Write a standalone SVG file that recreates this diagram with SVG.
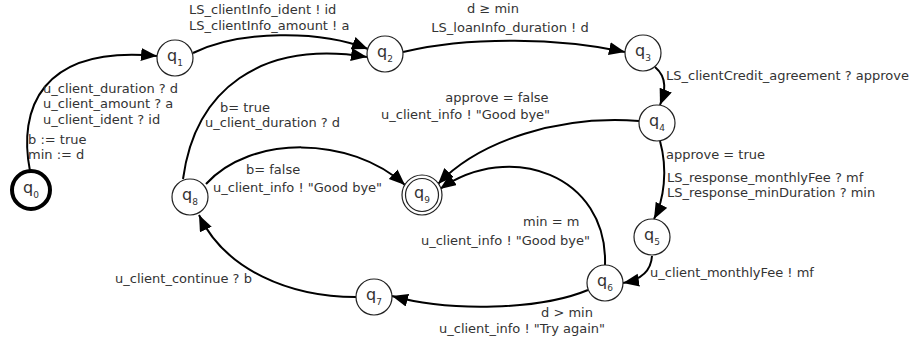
<svg xmlns="http://www.w3.org/2000/svg" width="912" height="343" viewBox="0 0 912 343">
<style>
.n{fill:#fff;stroke:#222;stroke-width:1.2}
.q{font-family:"DejaVu Sans",Verdana,sans-serif;font-size:16px;fill:#333}
.s{font-size:9px}
.e{fill:none;stroke:#000;stroke-width:2}
.t{font-family:"DejaVu Sans",Verdana,sans-serif;font-size:13px;fill:#333}
</style>
<defs>
<marker id="ah" markerUnits="userSpaceOnUse" markerWidth="18" markerHeight="14" refX="16" refY="6.5" orient="auto">
<path d="M0,0 L16,6.5 L0,13 z" fill="#000"/>
</marker>
</defs>
<rect width="912" height="343" fill="#fff"/>
<g id="connectors">
<path class="e" d="M30,171 C18,110 40,45 157,56" marker-end="url(#ah)"/>
<path class="e" d="M193,53 C240,30 320,30 368,49" marker-end="url(#ah)"/>
<path class="e" d="M183,179 C195,90 260,40 367,57" marker-end="url(#ah)"/>
<path class="e" d="M403,52 C470,36 560,38 625,52" marker-end="url(#ah)"/>
<path class="e" d="M655,67 C668,78 665,92 660,105" marker-end="url(#ah)"/>
<path class="e" d="M639,121 C560,115 480,140 438,184" marker-end="url(#ah)"/>
<path class="e" d="M605,265 C608,175 510,140 440,189" marker-end="url(#ah)"/>
<path class="e" d="M660,141 C668,170 664,200 654,219" marker-end="url(#ah)"/>
<path class="e" d="M652,256 C651,272 640,280 623,283" marker-end="url(#ah)"/>
<path class="e" d="M588,290 C540,310 450,312 392,296" marker-end="url(#ah)"/>
<path class="e" d="M356,297 C290,297 225,270 199,215" marker-end="url(#ah)"/>
<path class="e" d="M206,184 C250,135 350,135 405,185" marker-end="url(#ah)"/>
</g>
<g id="labels">
<text class="t" x="43" y="93">u_client_duration ? d</text>
<text class="t" x="43" y="108">u_client_amount ? a</text>
<text class="t" x="43" y="124">u_client_ident ? id</text>
<text class="t" x="28" y="144">b := true</text>
<text class="t" x="28" y="159">min := d</text>
<text class="t" x="189" y="14">LS_clientInfo_ident ! id</text>
<text class="t" x="189" y="30">LS_clientInfo_amount ! a</text>
<text class="t" x="493" y="13" text-anchor="middle">d ≥ min</text>
<text class="t" x="510" y="32" text-anchor="middle">LS_loanInfo_duration ! d</text>
<text class="t" x="666" y="80">LS_clientCredit_agreement ? approve</text>
<text class="t" x="497" y="102" text-anchor="middle">approve = false</text>
<text class="t" x="381" y="119">u_client_info ! "Good bye"</text>
<text class="t" x="220" y="112">b= true</text>
<text class="t" x="205" y="127">u_client_duration ? d</text>
<text class="t" x="666" y="159">approve = true</text>
<text class="t" x="667" y="182">LS_response_monthlyFee ? mf</text>
<text class="t" x="667" y="197">LS_response_minDuration ? min</text>
<text class="t" x="246" y="174">b= false</text>
<text class="t" x="213" y="192">u_client_info ! "Good bye"</text>
<text class="t" x="523" y="226">min = m</text>
<text class="t" x="590" y="245" text-anchor="end">u_client_info ! "Good bye"</text>
<text class="t" x="650" y="277">u_client_monthlyFee ! mf</text>
<text class="t" x="115" y="283">u_client_continue ? b</text>
<text class="t" x="567" y="317" text-anchor="middle">d &gt; min</text>
<text class="t" x="605" y="333" text-anchor="end">u_client_info ! "Try again"</text>
</g>
<g id="q0"><circle class="n" cx="31" cy="190" r="19" style="stroke-width:4;stroke:#000"/><text class="q" x="23" y="193">q<tspan class="s" dy="5">0</tspan></text></g>
<g id="q1"><circle class="n" cx="175" cy="58" r="18"/><text class="q" x="167" y="61">q<tspan class="s" dy="5">1</tspan></text></g>
<g id="q2"><circle class="n" cx="385" cy="54" r="18"/><text class="q" x="377" y="57">q<tspan class="s" dy="5">2</tspan></text></g>
<g id="q3"><circle class="n" cx="643" cy="53" r="18"/><text class="q" x="635" y="56">q<tspan class="s" dy="5">3</tspan></text></g>
<g id="q4"><circle class="n" cx="657" cy="123" r="18"/><text class="q" x="649" y="126">q<tspan class="s" dy="5">4</tspan></text></g>
<g id="q5"><circle class="n" cx="652" cy="237" r="18"/><text class="q" x="644" y="240">q<tspan class="s" dy="5">5</tspan></text></g>
<g id="q6"><circle class="n" cx="605" cy="283" r="18"/><text class="q" x="597" y="286">q<tspan class="s" dy="5">6</tspan></text></g>
<g id="q7"><circle class="n" cx="374" cy="297" r="18"/><text class="q" x="366" y="300">q<tspan class="s" dy="5">7</tspan></text></g>
<g id="q8"><circle class="n" cx="190" cy="197" r="18"/><text class="q" x="182" y="200">q<tspan class="s" dy="5">8</tspan></text></g>
<g id="q9"><circle class="n" cx="422" cy="195" r="20"/><circle class="n" cx="422" cy="195" r="16.5"/><text class="q" x="414" y="198">q<tspan class="s" dy="5">9</tspan></text></g>
</svg>
